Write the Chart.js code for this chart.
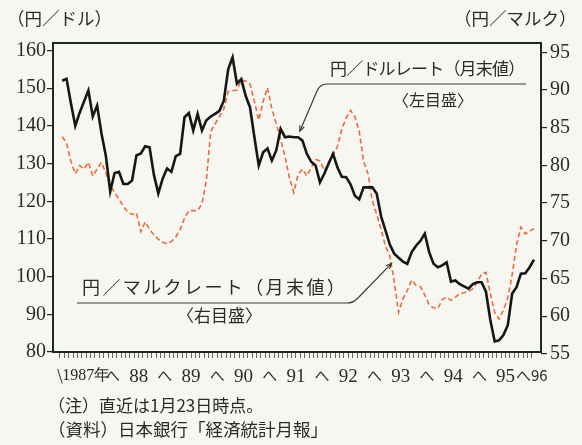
<!DOCTYPE html>
<html>
<head>
<meta charset="utf-8">
<script src="https://cdn.jsdelivr.net/npm/chart.js@4.4.0/dist/chart.umd.min.js"></script>
<style>
  html, body { margin: 0; padding: 0; background: #f7f7f2; }
  #wrap { position: relative; width: 582px; height: 445px; overflow: hidden; }
  #wrap canvas { position: absolute; left: 0; top: 0; }
  .t { position: absolute; white-space: nowrap; font-family: "Noto Sans CJK JP", sans-serif; color: #2a2a2a; line-height: 1; }
</style>
</head>
<body>
<div id="wrap">
  <canvas id="fx" width="582" height="445"></canvas>
  <div class="t" style="left:7px;top:9px;font-size:17.5px">（円／ドル）</div>
  <div class="t" style="left:454px;top:9px;font-size:17.5px">（円／マルク）</div>
  <div class="t" style="left:330px;top:59px;font-size:17px;letter-spacing:-0.8px">円／ドルレート（月末値）</div>
  <div class="t" style="left:393px;top:91px;font-size:16px">〈左目盛〉</div>
  <div class="t" style="left:82px;top:277px;font-size:18px;letter-spacing:2.4px">円／マルクレート（月末値）</div>
  <div class="t" style="left:177px;top:306px;font-size:17px">〈右目盛〉</div>
  <div class="t" style="left:48px;top:396px;font-size:17px">（注）直近は1月23日時点。</div>
  <div class="t" style="left:48px;top:420px;font-size:17.5px">（資料）日本銀行「経済統計月報」</div>
</div>
<script>
// month-end values, Jan 1987 .. Jan 1996 (last one = Jan 23)
const yearLabels = ['1987年', '88', '89', '90', '91', '92', '93', '94', '95', '96'];

const usdJpy = [
  152, 152.5, 146, 140, 143.5, 146.5, 149.4, 142.5, 145.4, 138, 132, 122.6,
  127.5, 127.8, 124.6, 124.6, 125.5, 132.2, 132.7, 134.6, 134.3, 127, 122.1, 126,
  128.7, 127.8, 132, 132.6, 142.3, 143.4, 138.8, 143.2, 138.8, 141.5, 142.5, 143.2,
  144, 146.7, 155, 158.2, 151.2, 152.4, 148, 144.9, 137, 129.5, 133, 134,
  130.8, 133.5, 139.2, 137, 137.2, 137, 137, 136.1, 132.6, 130.5, 129.5, 125,
  127.3, 130, 132.6, 129, 126.5, 126.4, 124.5, 121.5, 120.5, 123.7, 123.7, 123.7,
  122, 116, 112.3, 108.5, 106.1, 105, 104, 103.4, 106.5, 108.2, 109.5, 111.4,
  106.5, 103.4, 102.5, 103, 103.8, 98.7, 99, 98, 97.4, 96.8, 98, 98.5,
  98.5, 96, 88.5, 82.8, 83.1, 84.5, 87.1, 95.5, 97.2, 100.8, 100.9, 102.5,
  104.5
];

const demJpy = [
  83.8, 83, 80.5, 78.9, 80, 79.5, 80.4, 78.6, 79.5, 80.4, 79, 77.3,
  76.4, 75.5, 74.6, 73.8, 73.5, 73.7, 71.2, 72.5, 71.5, 70.8, 70.2, 69.8,
  69.6, 69.9, 70.5, 71.5, 73, 74, 74, 74, 74.9, 78, 84.5, 85.5,
  86.5, 87.5, 89.8, 89.9, 90, 91.3, 91.2, 90.8, 88.5, 86, 88.5, 90.3,
  87.5, 85.5, 83.5, 81.2, 78.4, 76.4, 78.8, 79.5, 78.6, 79.7, 80.8, 80.6,
  79.3, 80.5, 81.3, 82.5, 84.8, 86.3, 87.3, 86.5, 84.5, 80.5, 78.9, 75.3,
  73.5, 71.5, 69.3, 68, 64.6, 60.5, 62.3, 63.4, 64.8, 64.1, 63.9, 62.8,
  61.5, 61.1, 61, 62.2, 62.5, 62.1, 62.5, 63, 63.1, 63.3, 63.6, 64.5,
  65.6, 65.8, 63, 60.5, 59.6, 60.8, 62.4, 65.5, 69.5, 71.8, 70.9, 71.3,
  71.6
];

const leftTicks = [80, 90, 100, 110, 120, 130, 140, 150, 160];
const rightTicks = [55, 60, 65, 70, 75, 80, 85, 90, 95];

const toPoints = arr => arr.map((v, i) => ({ x: i, y: v }));

const frameColor = '#1c2a1e';
const textColor = '#2a2a2a';
const serifFamily = '"Liberation Serif", "DejaVu Serif", serif';
const axisFont = { family: serifFamily, size: 20 };

const framePlugin = {
  id: 'frame',
  afterDatasetsDraw(chart) {
    const { ctx, chartArea: a } = chart;
    ctx.save();
    ctx.strokeStyle = frameColor;
    ctx.lineWidth = 2;
    ctx.strokeRect(a.left, a.top, a.right - a.left, a.bottom - a.top);
    ctx.restore();
  }
};

function arrowTo(ctx, fx, fy, tx, ty) {
  ctx.lineTo(tx, ty);
  ctx.stroke();
  const ang = Math.atan2(ty - fy, tx - fx);
  ctx.beginPath();
  ctx.moveTo(tx - 6 * Math.cos(ang - 0.4), ty - 6 * Math.sin(ang - 0.4));
  ctx.lineTo(tx, ty);
  ctx.lineTo(tx - 6 * Math.cos(ang + 0.4), ty - 6 * Math.sin(ang + 0.4));
  ctx.stroke();
}

// leader lines from the labels to the two series
const leaderPlugin = {
  id: 'leaders',
  afterDraw(chart) {
    const { ctx, scales } = chart;
    ctx.save();
    ctx.strokeStyle = '#3a3a3a';
    ctx.lineWidth = 1.2;

    const x1 = scales.x.getPixelForValue(54.4);
    const y1 = scales.yL.getPixelForValue(138.6);
    ctx.beginPath();
    ctx.moveTo(526, 84);
    ctx.lineTo(327, 84);
    ctx.quadraticCurveTo(320, 84, 317, 91);
    arrowTo(ctx, 317, 91, x1, y1);

    const x2 = scales.x.getPixelForValue(75.4);
    const y2 = scales.yR.getPixelForValue(67);
    ctx.beginPath();
    ctx.moveTo(77, 303);
    ctx.lineTo(347, 303);
    ctx.quadraticCurveTo(353, 303, 357, 299);
    arrowTo(ctx, 357, 299, x2, y2);
    ctx.restore();
  }
};

new Chart(document.getElementById('fx'), {
  type: 'line',
  data: {
    datasets: [
      {
        label: '円／ドルレート',
        data: toPoints(usdJpy),
        yAxisID: 'yL',
        borderColor: '#161616',
        borderWidth: 2.6,
        pointRadius: 0,
        tension: 0
      },
      {
        label: '円／マルクレート',
        data: toPoints(demJpy),
        yAxisID: 'yR',
        borderColor: '#ec6a3e',
        borderWidth: 1.6,
        borderDash: [5, 3],
        pointRadius: 0,
        tension: 0
      }
    ]
  },
  options: {
    responsive: false,
    devicePixelRatio: 1,
    animation: false,
    layout: { padding: { top: 43, left: 0, right: 0, bottom: 0 } },
    plugins: { legend: { display: false }, tooltip: { enabled: false } },
    scales: {
      x: {
        type: 'linear',
        min: -2.1,
        max: 109.6,
        afterBuildTicks: s => {
          s.ticks = usdJpy.map((_, j) => ({ value: j - 0.5 }));
        },
        afterFit: s => { s.height = 93; },
        border: { display: false },
        grid: { drawOnChartArea: false, tickLength: 6, color: '#666', lineWidth: 1 },
        ticks: {
          autoSkip: false,
          maxRotation: 0,
          padding: 8,
          color: textColor,
          font: c => {
            const j = c.index;
            if (j === 6) return { family: serifFamily, size: 16 };
            if (j % 12 === 0) return { family: '"Noto Sans CJK JP", sans-serif', size: 15 };
            return { family: serifFamily, size: 19 };
          },
          callback: (v, j) => {
            if (j === 0) return '\\';
            if (j % 12 === 0) return j === 108 ? 'へ' + yearLabels[9] : 'へ';
            if (j % 12 === 6) return yearLabels[(j - 6) / 12];
            return '';
          }
        }
      },
      yL: {
        type: 'linear',
        position: 'left',
        min: 80,
        max: 162,
        afterBuildTicks: s => { s.ticks = leftTicks.map(v => ({ value: v })); },
        afterFit: s => { s.width = 53; },
        border: { display: false },
        grid: { drawOnChartArea: false, tickLength: 6, color: frameColor, lineWidth: 1.2 },
        ticks: { padding: 1, color: textColor, font: axisFont }
      },
      yR: {
        type: 'linear',
        position: 'right',
        min: 55.24,
        max: 96.24,
        afterBuildTicks: s => { s.ticks = rightTicks.map(v => ({ value: v })); },
        afterFit: s => { s.width = 41; },
        border: { display: false },
        grid: { drawOnChartArea: false, tickLength: 6, color: frameColor, lineWidth: 1.2 },
        ticks: { padding: 3, color: textColor, font: axisFont }
      }
    }
  },
  plugins: [framePlugin, leaderPlugin]
});
</script>
</body>
</html>
